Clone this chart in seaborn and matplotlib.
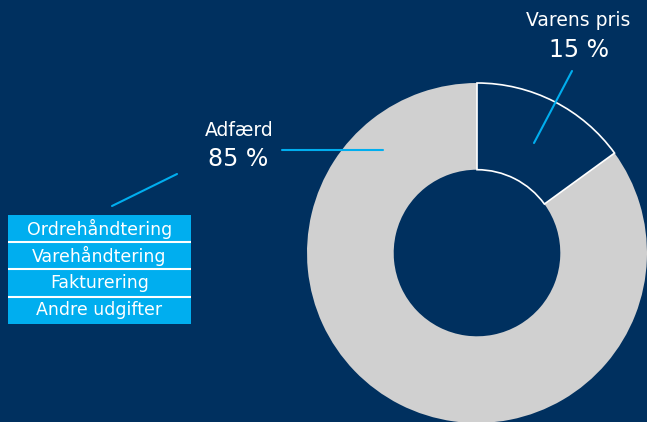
import matplotlib
matplotlib.use("Agg")
import matplotlib.pyplot as plt
import seaborn as sns

# Data
slice_labels = ['Varens pris', 'Adfærd']
slice_values = [15, 85]
cost_items = ['Ordrehåndtering', 'Varehåndtering', 'Fakturering', 'Andre udgifter']

navy = '#00305f'
grey = '#d0d0d0'
cyan = '#00aeef'

sns.set_style('white')
plt.rcParams['font.family'] = ['DejaVu Sans']

W, H = 647, 422
fig = plt.figure(figsize=(W / 100, H / 100), dpi=100, facecolor=navy)
ax = fig.add_axes([0, 0, 1, 1])
ax.set_facecolor(navy)

# donut, pixel coordinates (y up)
cx, cy, r = 477, H - 253, 170
wedges, _ = ax.pie(slice_values, colors=[navy, grey], startangle=90, counterclock=False,
                   center=(cx, cy), radius=r,
                   wedgeprops=dict(width=r * 0.51, linewidth=1.2))
wedges[0].set_edgecolor('white')
wedges[1].set_edgecolor(grey)
wedges[1].set_linewidth(0)
wedges[0].set_zorder(3)

ax.set_xlim(0, W)
ax.set_ylim(0, H)
ax.set_aspect('equal')
ax.axis('off')

# labels
ax.text(578, H - 20, slice_labels[0], color='white', fontsize=13.5, ha='center', va='center')
ax.text(579, H - 50, f'{slice_values[0]} %', color='white', fontsize=17, ha='center',
        va='center')
ax.plot([534, 572], [H - 143, H - 71], color=cyan, lw=1.5, zorder=4)

ax.text(239, H - 130, slice_labels[1], color='white', fontsize=13.5, ha='center', va='center')
ax.text(238, H - 159, f'{slice_values[1]} %', color='white', fontsize=17, ha='center',
        va='center')
ax.plot([282, 383], [H - 150, H - 150], color=cyan, lw=1.5)
ax.plot([112, 177], [H - 206, H - 174], color=cyan, lw=1.5)

# stacked boxes
row_h = 27.2
top = H - 215
ys = [top - row_h * (i + 0.5) for i in range(len(cost_items))]
ax.barh(ys, [183] * len(cost_items), left=8, height=row_h, color=cyan, linewidth=0)
ax.hlines([top - row_h * i for i in range(1, len(cost_items))], 8, 191,
          color='white', lw=1.5)
for y, name in zip(ys, cost_items):
    ax.text(99.5, y, name, color='white', fontsize=12.5, ha='center', va='center')

fig.savefig('out.png', dpi=100, facecolor=navy)
